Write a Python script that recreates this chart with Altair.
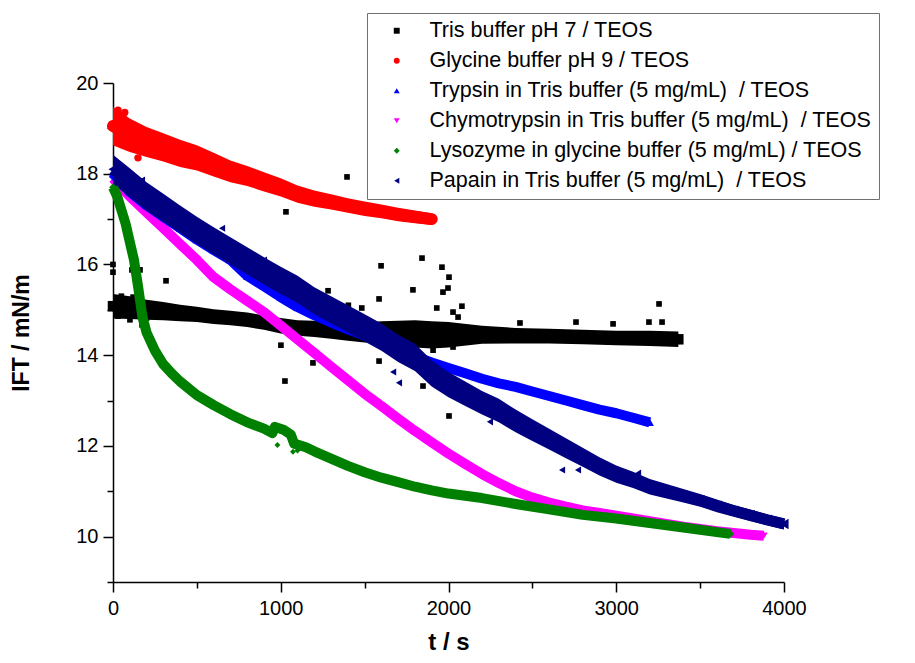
import altair as alt
import pandas as pd

# ---------------- data ----------------
series_names = [
    "Tris buffer pH 7 / TEOS",
    "Glycine buffer pH 9 / TEOS",
    "Trypsin in Tris buffer (5 mg/mL)  / TEOS",
    "Chymotrypsin in Tris buffer (5 mg/mL)  / TEOS",
    "Lysozyme in glycine buffer (5 mg/mL) / TEOS",
    "Papain in Tris buffer (5 mg/mL)  / TEOS",
]
colors = ["#000000", "#ff0000", "#0000ff", "#ff00ff", "#008000", "#000080"]
shapes = ["square", "circle", "triangle-up", "triangle-down", "diamond", "triangle-left"]

x_major = [0, 1000, 2000, 3000, 4000]
x_minor = [500, 1500, 2500, 3500]
y_major = [10, 12, 14, 16, 18, 20]
y_minor = [9, 11, 13, 15, 17, 19]

# *_t: time (s), *_v: centre of the scatter band (mN/m), *_hw: half-width of the scatter band (mN/m)
tris_t = [0, 100, 200, 300, 400, 500, 600, 700, 800, 900, 1000, 1100, 1200, 1300, 1400,
          1500, 1600, 1700, 1800, 1900, 2000, 2200, 2400, 2600, 2800, 3000, 3200, 3370]
tris_v = [15.08, 15.05, 15.0, 14.97, 14.93, 14.9, 14.85, 14.82, 14.78, 14.72, 14.65, 14.6, 14.58, 14.55, 14.52,
          14.5, 14.5, 14.48, 14.47, 14.45, 14.45, 14.45, 14.43, 14.42, 14.4, 14.38, 14.37, 14.35]
tris_hw = [0.27, 0.25, 0.22, 0.2, 0.18, 0.17, 0.16, 0.16, 0.16, 0.16, 0.17, 0.17, 0.18, 0.19, 0.2,
           0.22, 0.25, 0.28, 0.3, 0.3, 0.28, 0.2, 0.17, 0.16, 0.16, 0.16, 0.17, 0.17]
tris_out_t = [0, 0, 113, 161, 316, 101, 173, 1395, 1031, 1598, 1842, 1961, 2003, 1788, 1967, 1997,
              1282, 1586, 2080, 1192, 1586, 1848, 2003, 1025, 1001, 3255, 2426, 2760, 2981, 3195,
              3273, 1403, 1483, 1930, 2027, 2057, 1651, 1770, 1908, 2027, 50, 120, 30, 200]
tris_out_v = [16.0, 15.83, 15.88, 15.88, 15.64, 14.78, 14.67, 17.93, 17.16, 15.97, 16.14, 15.94, 15.72, 15.44, 15.39, 15.48,
              15.42, 15.24, 15.08, 13.83, 13.87, 13.32, 12.66, 13.43, 14.22, 15.13, 14.71, 14.73, 14.69, 14.73,
              14.73, 15.1, 15.04, 15.04, 14.95, 14.84, 14.33, 14.18, 14.11, 14.18, 15.3, 15.28, 14.86, 14.82]

gly_t = [0, 50, 100, 200, 300, 400, 500, 600, 700, 800, 900, 1000, 1100, 1200, 1300, 1400,
         1500, 1600, 1700, 1800, 1900]
gly_v = [19.05, 18.95, 18.85, 18.7, 18.58, 18.45, 18.35, 18.2, 18.05, 17.95, 17.82, 17.7, 17.55, 17.45, 17.38, 17.3,
         17.23, 17.17, 17.1, 17.05, 17.0]
gly_hw = [0.42, 0.4, 0.37, 0.33, 0.31, 0.3, 0.28, 0.26, 0.24, 0.22, 0.21, 0.2, 0.19, 0.18, 0.17, 0.16,
          0.16, 0.15, 0.15, 0.14, 0.13]
gly_out_t = [30, 70, 149]
gly_out_v = [19.4, 19.35, 18.35]

tryp_t = [0, 100, 200, 300, 400, 500, 600, 700, 800, 900, 1000, 1100, 1200, 1300, 1400, 1500,
          1600, 1700, 1800, 1900, 2000, 2100, 2200, 2300, 2400, 2500, 2600, 2700, 2800, 2900,
          3000, 3100, 3200]
tryp_v = [18.0, 17.6, 17.3, 17.05, 16.8, 16.55, 16.32, 16.1, 15.75, 15.52, 15.28, 15.06, 14.88, 14.72, 14.57, 14.43,
          14.28, 14.13, 13.97, 13.84, 13.72, 13.6, 13.48, 13.38, 13.3, 13.2, 13.1, 13.0, 12.9, 12.8,
          12.72, 12.62, 12.52]

chymo_t = [0, 100, 200, 300, 400, 500, 600, 700, 800, 900, 1000, 1100, 1200, 1300, 1400, 1500,
           1600, 1700, 1800, 1900, 2000, 2100, 2200, 2300, 2400, 2500, 2600, 2700, 2800, 2900,
           3000, 3100, 3200, 3300, 3400, 3500, 3600, 3700, 3800, 3880]
chymo_v = [17.9, 17.5, 17.15, 16.8, 16.45, 16.1, 15.72, 15.45, 15.2, 14.95, 14.65, 14.35, 14.05, 13.75, 13.45, 13.15,
           12.88, 12.6, 12.33, 12.08, 11.83, 11.6, 11.38, 11.18, 11.0, 10.86, 10.75, 10.66, 10.58, 10.52,
           10.46, 10.4, 10.34, 10.28, 10.22, 10.17, 10.12, 10.08, 10.04, 10.02]

lyso_t = [0, 25, 50, 75, 100, 125, 150, 175, 200, 250, 300, 350, 400, 500, 600, 700, 800, 900, 950,
          965, 1020, 1060, 1080, 1150, 1200, 1300, 1400, 1500, 1600, 1700, 1800, 1900, 2000, 2200, 2400, 2600,
          2800, 3000, 3200, 3400, 3600, 3680]
lyso_v = [17.7, 17.5, 17.2, 16.9, 16.5, 16.1, 15.5, 14.85, 14.5, 14.1, 13.8, 13.6, 13.42, 13.12, 12.9, 12.7, 12.52, 12.38, 12.28,
          12.42, 12.35, 12.25, 12.05, 11.97, 11.88, 11.72, 11.56, 11.42, 11.3, 11.2, 11.1, 11.02, 10.95, 10.85, 10.72, 10.6,
          10.48, 10.4, 10.3, 10.2, 10.1, 10.06]
lyso_out_t = [980, 1073, 1100]
lyso_out_v = [12.02, 11.87, 11.9]

pap_t = [0, 100, 200, 300, 400, 500, 600, 700, 800, 900, 1000, 1100, 1200, 1300, 1400, 1500,
         1600, 1700, 1800, 1900, 2000, 2100, 2200, 2300, 2400, 2500, 2600, 2700, 2800, 2900,
         3000, 3100, 3200, 3300, 3400, 3500, 3600, 3700, 3800, 3900, 4000]
pap_v = [18.1, 17.8, 17.5, 17.25, 17.0, 16.75, 16.52, 16.3, 16.08, 15.86, 15.65, 15.45, 15.2, 15.0, 14.8, 14.6,
         14.4, 14.15, 13.95, 13.6, 13.35, 13.15, 12.95, 12.78, 12.55, 12.35, 12.15, 11.95, 11.75, 11.55,
         11.38, 11.25, 11.1, 11.0, 10.9, 10.8, 10.68, 10.57, 10.47, 10.37, 10.28]
pap_hw = [0.32, 0.32, 0.31, 0.31, 0.3, 0.3, 0.3, 0.3, 0.3, 0.3, 0.3, 0.3, 0.3, 0.3, 0.3, 0.3,
          0.3, 0.3, 0.3, 0.29, 0.28, 0.27, 0.26, 0.26, 0.25, 0.24, 0.23, 0.22, 0.21, 0.2,
          0.19, 0.18, 0.17, 0.16, 0.15, 0.14, 0.14, 0.13, 0.13, 0.12, 0.12]
pap_out_t = [173, 471, 1670, 1705, 2247, 2677, 2772, 3130, 650, 900]
pap_out_v = [17.86, 16.72, 13.63, 13.39, 12.53, 11.47, 11.47, 11.4, 16.8, 16.1]

# ---------------- scales / axes ----------------
FONT = "Liberation Sans"
xscale = alt.Scale(domain=[0, 4000], nice=False, zero=False)
yscale = alt.Scale(domain=[9, 20], nice=False, zero=False)
common = dict(grid=False, domainColor="black", tickColor="black", domainWidth=1.5, tickWidth=1.5,
              labelFont=FONT, labelColor="black", labelFlush=False, labelOverlap=False, format="d")
xaxis = alt.Axis(
    values=x_major, tickSize=10, orient="bottom", labelFontSize=20, labelPadding=6,
    title="t / s", titleFont=FONT, titleFontSize=24, titleFontWeight="bold",
    titleColor="black", titlePadding=12, **common,
)
yaxis = alt.Axis(
    values=y_major, tickSize=10, orient="left", labelFontSize=20, labelPadding=5,
    title="IFT / mN/m", titleFont=FONT, titleFontSize=23, titleFontWeight="bold",
    titleColor="black", titlePadding=42, **common,
)
xaxis_minor = alt.Axis(values=x_minor, tickSize=6, orient="bottom", labels=False, domain=False,
                       title=None, grid=False, tickColor="black", tickWidth=1.5)
yaxis_minor = alt.Axis(values=y_minor, tickSize=6, orient="left", labels=False, domain=False,
                       title=None, grid=False, tickColor="black", tickWidth=1.5)
X = alt.X("t:Q", scale=xscale, axis=xaxis)
Y = alt.Y("v:Q", scale=yscale, axis=yaxis)

legend = alt.Legend(
    title=None, orient="none", legendX=254, legendY=-70,
    labelFont=FONT, labelFontSize=21.5, labelColor="black", labelLimit=900,
    labelExpr="replace(datum.label, '  ', ' \u00a0') + '\u2007\u2007\u2007'",
    symbolSize=35, symbolStrokeWidth=0, symbolOffset=12, labelOffset=22,
    rowPadding=7, padding=7, strokeColor="#707070", fillColor="white",
)
cscale = alt.Scale(domain=series_names, range=colors)
sscale = alt.Scale(domain=series_names, range=shapes)
COLOR = alt.Color("series:N", scale=cscale, legend=legend, sort=series_names)
SHAPE = alt.Shape("series:N", scale=sscale, legend=legend, sort=series_names)


def frame(i, t, v):
    return pd.DataFrame({"t": t, "v": v, "series": series_names[i]})


def band(i, t, v, width, psize, cap="butt", hw=None):
    df = frame(i, t, v)
    out = []
    if hw is not None:
        df["hi"] = [a + b for a, b in zip(v, hw)]
        df["lo"] = [a - b for a, b in zip(v, hw)]
        out.append(alt.Chart(df).mark_area(color=colors[i], opacity=1).encode(
            x=X, y=alt.Y("hi:Q", scale=yscale, axis=yaxis), y2="lo:Q"))
    out.append(alt.Chart(df).mark_line(strokeWidth=width, color=colors[i], strokeCap=cap,
                                       strokeJoin="round").encode(x=X, y=Y))
    out.append(alt.Chart(df).mark_point(filled=True, opacity=1, size=psize).encode(
        x=X, y=Y, color=COLOR, shape=SHAPE))
    return out


def scatter(i, t, v, psize):
    df = frame(i, t, v)
    return [alt.Chart(df).mark_point(filled=True, opacity=1, size=psize).encode(
        x=X, y=Y, color=COLOR, shape=SHAPE)]


layers = []
layers += band(0, tris_t, tris_v, 11, 110, hw=tris_hw)
layers += scatter(0, tris_out_t, tris_out_v, 32)
layers += band(3, chymo_t, chymo_v, 10, 60)
layers += band(2, tryp_t, tryp_v, 10, 70)
layers += band(5, pap_t, pap_v, 11, 110, hw=pap_hw)
layers += scatter(5, pap_out_t, pap_out_v, 50)
layers += band(4, lyso_t, lyso_v, 10, 60)
layers += scatter(4, lyso_out_t, lyso_out_v, 35)
layers += band(1, gly_t, gly_v, 12, 110, cap="round", hw=gly_hw)
layers += scatter(1, gly_out_t, gly_out_v, 55)

main = alt.layer(*layers)

# minor tick marks: transparent layers that only carry the minor-tick axes
minor_x = alt.Chart(pd.DataFrame({"t": x_minor, "v": [y_minor[0]] * len(x_minor)})).mark_point(opacity=0).encode(
    x=alt.X("t:Q", scale=xscale, axis=xaxis_minor),
    y=alt.Y("v:Q", scale=yscale, axis=yaxis_minor),
)
minor_y = alt.Chart(pd.DataFrame({"t": [x_minor[0]] * len(y_minor), "v": y_minor})).mark_point(opacity=0).encode(
    x=alt.X("t:Q", scale=xscale, axis=xaxis_minor),
    y=alt.Y("v:Q", scale=yscale, axis=yaxis_minor),
)

chart = alt.layer(main, alt.layer(minor_x, minor_y)).resolve_axis(x="independent", y="independent").properties(
    width=671, height=499,
    autosize=alt.AutoSizeParams(type="none"),
    padding={"left": 105, "top": 75, "right": 123, "bottom": 73},
    background="white",
).configure_view(stroke=None)

chart.save("out.html", embed_options={"renderer": "svg", "actions": False})
